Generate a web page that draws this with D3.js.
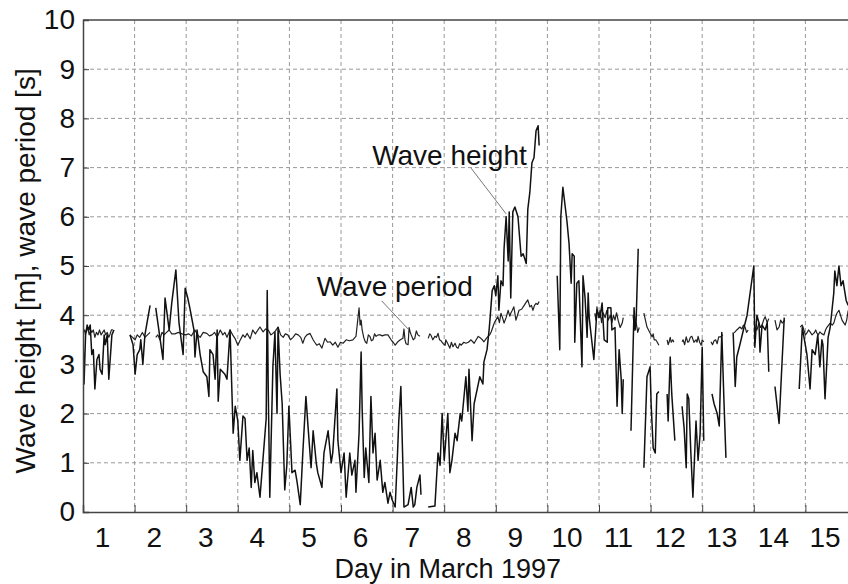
<!DOCTYPE html>
<html>
<head>
<meta charset="utf-8">
<script src="https://cdn.jsdelivr.net/npm/d3@7"></script>
<style>
  body { margin: 0; background: #fff; }
  text { font-family: "Liberation Sans", Arial, sans-serif; fill: #111; }
</style>
</head>
<body>
<svg id="chart" width="848" height="584"></svg>
<script>
// day in March 1997 (1.0 = start of 1 March), value; null = gap in record
var waveHeight = [
  [1.00,3.6],[1.02,2.6],[1.05,3.6],[1.08,3.8],[1.11,3.7],[1.14,3.8],[1.17,3.2],[1.20,3.3],[1.23,2.5],[1.27,3.1],
  [1.31,3.2],[1.33,2.9],[1.37,2.8],[1.41,3.6],[1.43,3.4],[1.47,3.6],[1.50,2.7],[1.52,3.0],[1.56,3.6],[1.60,3.7],[1.62,null],
  [1.91,3.6],[1.97,3.4],[2.01,2.8],[2.05,3.2],[2.10,3.3],[2.12,3.5],[2.16,3.0],[2.20,3.6],[2.30,4.2],[2.34,null],
  [2.41,4.15],[2.49,3.55],[2.55,3.1],[2.59,4.35],[2.67,3.7],[2.72,4.25],[2.80,4.92],[2.86,3.85],[2.94,3.2],[2.98,4.55],
  [3.03,4.35],[3.07,4.15],[3.15,3.7],[3.17,3.15],[3.21,3.7],[3.27,3.2],[3.33,2.85],[3.40,2.75],[3.44,2.35],[3.46,3.3],
  [3.52,3.2],[3.56,2.7],[3.60,3.7],[3.62,2.25],[3.66,2.9],[3.75,2.8],[3.79,2.7],[3.85,3.7],[3.91,1.6],[3.95,2.15],
  [4.00,1.85],[4.04,1.05],[4.10,1.95],[4.14,1.9],[4.18,1.05],[4.22,1.3],[4.26,0.5],[4.29,1.25],[4.33,0.6],[4.37,0.8],
  [4.43,0.3],[4.49,1.1],[4.55,1.9],[4.57,4.5],[4.59,2.5],[4.62,0.3],[4.68,2.95],[4.72,3.65],[4.76,2.0],[4.78,3.75],
  [4.82,2.8],[4.86,2.2],[4.91,0.45],[4.95,0.95],[4.99,2.15],[5.05,0.8],[5.11,0.85],[5.15,0.6],[5.21,0.15],[5.26,1.2],
  [5.32,2.35],[5.36,1.75],[5.42,0.9],[5.46,1.65],[5.52,1.0],[5.55,0.8],[5.63,0.5],[5.67,1.2],[5.75,1.65],[5.81,1.0],
  [5.84,1.2],[5.92,2.5],[5.94,1.45],[6.00,0.8],[6.06,1.2],[6.10,0.3],[6.17,1.2],[6.21,0.75],[6.27,1.05],[6.29,0.4],
  [6.35,1.6],[6.39,3.25],[6.41,2.1],[6.45,0.7],[6.48,1.3],[6.54,0.6],[6.58,2.35],[6.62,1.2],[6.66,1.6],[6.70,0.65],
  [6.76,1.05],[6.81,0.4],[6.85,0.6],[6.91,0.18],[6.95,0.4],[6.99,0.25],[7.05,0.1],[7.09,1.05],[7.12,1.85],[7.16,2.55],
  [7.22,0.1],[7.30,0.15],[7.36,0.5],[7.40,0.1],[7.43,0.15],[7.47,0.5],[7.53,0.75],[7.55,0.35],[7.60,null],
  [7.69,0.1],[7.82,0.12],[7.88,1.2],[7.92,0.95],[7.96,2.0],[8.00,1.05],[8.03,1.45],[8.07,2.0],[8.11,0.8],[8.15,1.05],
  [8.21,1.6],[8.25,1.45],[8.31,2.0],[8.34,1.85],[8.42,2.75],[8.46,2.05],[8.48,2.9],[8.54,1.45],[8.58,2.2],[8.66,2.6],
  [8.69,2.75],[8.75,2.6],[8.77,3.05],[8.83,3.3],[8.87,3.7],[8.89,3.95],[8.93,4.5],[8.97,4.6],[9.00,4.4],[9.04,4.8],
  [9.06,4.1],[9.10,4.7],[9.14,4.6],[9.16,5.35],[9.20,6.0],[9.24,5.1],[9.26,6.1],[9.29,4.35],[9.33,6.1],[9.37,6.2],
  [9.43,6.0],[9.49,5.2],[9.53,5.25],[9.59,5.05],[9.62,6.15],[9.66,6.5],[9.70,7.1],[9.74,7.2],[9.78,7.75],[9.82,7.85],
  [9.84,7.45],[9.90,null],
  [10.19,4.8],[10.24,3.3],[10.26,6.0],[10.30,6.6],[10.38,5.9],[10.42,5.45],[10.46,4.65],[10.48,5.25],[10.52,5.2],[10.53,3.45],
  [10.57,4.65],[10.61,4.7],[10.67,2.95],[10.69,4.8],[10.73,4.35],[10.77,3.55],[10.79,4.45],[10.81,3.95],[10.90,3.1],[10.96,4.1],
  [11.02,3.95],[11.06,4.25],[11.10,3.5],[11.16,3.45],[11.17,4.15],[11.23,4.15],[11.25,3.7],[11.31,3.75],[11.35,2.15],[11.39,3.3],
  [11.43,2.7],[11.45,2.0],[11.47,2.7],[11.52,null],
  [11.62,1.65],[11.68,4.15],[11.70,3.7],[11.72,3.9],[11.76,5.35],[11.80,null],
  [11.87,0.9],[11.93,2.75],[11.99,2.95],[12.01,2.2],[12.05,1.3],[12.09,1.2],[12.12,2.4],[12.16,2.45],[12.22,null],
  [12.32,2.4],[12.34,1.85],[12.38,3.15],[12.41,2.4],[12.47,1.45],[12.52,null],
  [12.61,2.15],[12.65,1.7],[12.69,0.9],[12.71,2.4],[12.74,2.3],[12.78,1.2],[12.82,0.3],[12.88,1.85],[12.92,1.05],[12.96,1.6],
  [13.00,3.35],[13.03,1.45],[13.10,null],
  [13.19,2.4],[13.23,2.2],[13.29,2.0],[13.33,1.75],[13.38,3.65],[13.42,2.3],[13.46,1.1],[13.52,null],
  [13.60,3.65],[13.64,2.55],[13.67,3.15],[13.73,3.4],[13.81,3.75],[13.87,4.0],[14.00,5.0],[14.02,3.35],[14.06,4.0],[14.10,3.85],
  [14.12,3.25],[14.16,3.8],[14.22,3.7],[14.26,3.85],[14.29,2.85],[14.35,null],
  [14.41,2.55],[14.49,1.8],[14.55,3.1],[14.59,3.95],[14.70,null],
  [14.88,2.5],[14.94,3.75],[14.99,3.45],[15.03,3.2],[15.09,2.5],[15.13,3.3],[15.19,3.2],[15.24,3.6],[15.28,2.95],[15.32,3.5],
  [15.34,3.4],[15.38,2.3],[15.44,3.55],[15.48,3.75],[15.55,4.45],[15.57,4.9],[15.61,4.6],[15.65,5.0],[15.69,4.6],[15.73,4.7],
  [15.79,4.3],[15.83,4.2]
];

var wavePeriod = [
  [1.00,3.55],[1.03,3.7],[1.06,3.65],[1.09,3.75],[1.12,3.6],[1.15,3.7],[1.17,3.65],[1.20,3.7],[1.23,3.55],[1.26,3.65],
  [1.29,3.6],[1.32,3.7],[1.35,3.6],[1.38,3.65],[1.41,3.7],[1.44,3.6],[1.47,3.65],[1.50,3.55],[1.52,3.6],[1.55,3.7],[1.58,3.7],[1.62,null],
  [1.91,3.6],[1.96,3.55],[2.01,3.5],[2.05,3.6],[2.10,3.55],[2.15,3.65],[2.20,3.55],[2.25,3.6],[2.30,3.65],[2.34,null],
  [2.41,3.55],[2.45,3.6],[2.49,3.5],[2.53,3.65],[2.57,3.6],[2.62,3.65],[2.67,3.7],[2.72,3.62],[2.78,3.62],[2.85,3.65],
  [2.92,3.62],[2.98,3.6],[3.05,3.62],[3.10,3.58],[3.17,3.7],[3.22,3.6],[3.27,3.55],[3.33,3.65],[3.40,3.63],[3.45,3.58],
  [3.50,3.6],[3.55,3.65],[3.60,3.55],[3.66,3.7],[3.71,3.6],[3.75,3.65],[3.79,3.55],[3.85,3.7],[3.90,3.6],[3.95,3.52],
  [4.00,3.39],[4.05,3.5],[4.10,3.6],[4.14,3.55],[4.18,3.63],[4.24,3.52],[4.29,3.7],[4.34,3.62],[4.39,3.7],[4.43,3.76],
  [4.49,3.66],[4.54,3.72],[4.59,3.7],[4.64,3.6],[4.68,3.63],[4.73,3.68],[4.78,3.76],[4.83,3.6],[4.88,3.55],[4.92,3.62],
  [4.97,3.6],[5.02,3.5],[5.07,3.55],[5.12,3.62],[5.17,3.6],[5.22,3.55],[5.26,3.43],[5.30,3.55],[5.34,3.6],[5.40,3.63],
  [5.46,3.5],[5.49,3.45],[5.53,3.39],[5.58,3.42],[5.63,3.33],[5.69,3.53],[5.74,3.45],[5.79,3.46],[5.84,3.39],[5.89,3.45],
  [5.94,3.35],[5.99,3.45],[6.04,3.43],[6.10,3.5],[6.16,3.48],[6.23,3.5],[6.29,3.57],[6.35,4.15],[6.37,3.8],[6.39,3.9],
  [6.41,3.7],[6.44,3.55],[6.47,3.46],[6.50,3.43],[6.53,3.6],[6.56,3.57],[6.59,3.48],[6.62,3.5],[6.65,3.62],[6.68,3.57],
  [6.72,3.6],[6.76,3.6],[6.80,3.58],[6.85,3.6],[6.91,3.6],[6.97,3.5],[7.01,3.45],[7.05,3.39],[7.10,3.46],[7.15,3.5],
  [7.20,3.53],[7.22,3.72],[7.24,3.5],[7.26,3.42],[7.30,3.4],[7.32,3.75],[7.34,3.66],[7.36,3.6],[7.40,3.5],[7.43,3.53],
  [7.46,3.68],[7.49,3.6],[7.53,3.57],[7.60,null],
  [7.69,3.53],[7.72,3.62],[7.74,3.6],[7.78,3.5],[7.82,3.57],[7.85,3.55],[7.88,3.63],[7.91,3.5],[7.94,3.48],[7.98,3.42],
  [8.02,3.39],[8.03,3.5],[8.07,3.42],[8.11,3.33],[8.14,3.45],[8.17,3.36],[8.21,3.43],[8.24,3.35],[8.27,3.33],[8.30,3.42],
  [8.33,3.39],[8.38,3.45],[8.42,3.43],[8.47,3.45],[8.52,3.5],[8.58,3.43],[8.62,3.5],[8.66,3.57],[8.71,3.53],[8.74,3.5],
  [8.77,3.46],[8.81,3.52],[8.85,3.57],[8.88,3.6],[8.91,3.66],[8.94,3.75],[8.97,3.84],[9.00,3.9],[9.04,3.97],[9.07,3.85],
  [9.10,4.04],[9.13,3.95],[9.16,3.84],[9.20,3.95],[9.24,4.1],[9.27,3.98],[9.29,4.04],[9.32,4.1],[9.35,4.17],[9.39,3.9],
  [9.42,4.0],[9.45,4.1],[9.50,4.12],[9.55,4.2],[9.58,4.25],[9.62,4.31],[9.66,4.17],[9.69,4.2],[9.72,4.1],[9.75,4.2],
  [9.78,4.24],[9.81,4.22],[9.84,4.28],[9.90,null],
  [10.92,4.04],[10.94,3.9],[10.96,4.17],[10.99,3.95],[11.02,4.1],[11.05,3.85],[11.08,4.05],[11.12,3.95],[11.15,4.1],[11.18,3.9],
  [11.22,4.0],[11.25,3.85],[11.28,4.0],[11.31,3.9],[11.34,4.05],[11.37,3.9],[11.41,3.75],[11.45,3.84],[11.47,3.95],[11.52,null],
  [11.66,4.0],[11.69,3.7],[11.72,3.85],[11.75,3.65],[11.78,3.75],[11.81,null],
  [11.87,4.04],[11.93,3.76],[11.96,3.7],[11.99,3.64],[12.01,3.6],[12.03,3.56],[12.05,3.62],[12.07,3.5],[12.10,3.5],[12.13,3.45],
  [12.16,3.39],[12.22,null],
  [12.32,3.5],[12.34,3.4],[12.36,3.46],[12.38,3.55],[12.40,3.45],[12.43,3.5],[12.45,3.45],[12.52,null],
  [12.61,3.46],[12.63,3.5],[12.66,3.4],[12.69,3.56],[12.72,3.45],[12.74,3.46],[12.77,3.55],[12.80,3.57],[12.84,3.45],[12.88,3.5],
  [12.90,3.45],[12.92,3.57],[12.95,3.45],[12.98,3.39],[13.00,3.5],[13.03,3.46],[13.10,null],
  [13.17,3.46],[13.20,3.4],[13.23,3.48],[13.26,3.5],[13.29,3.42],[13.32,3.56],[13.36,3.56],[13.40,3.6],[13.46,null],
  [13.62,3.64],[13.67,3.7],[13.73,3.76],[13.77,3.72],[13.80,3.8],[13.83,3.76],[13.86,3.65],[13.89,3.7],[13.95,null],
  [14.02,3.76],[14.06,3.7],[14.10,3.84],[14.13,3.75],[14.16,3.8],[14.19,3.9],[14.22,3.97],[14.26,3.85],[14.29,3.93],[14.35,null],
  [14.41,3.9],[14.45,3.7],[14.49,3.76],[14.52,3.9],[14.55,3.84],[14.60,3.9],[14.70,null],
  [14.90,3.76],[14.94,3.8],[14.97,3.7],[15.00,3.6],[15.03,3.64],[15.06,3.7],[15.09,3.66],[15.13,3.6],[15.17,3.64],[15.20,3.7],
  [15.22,3.64],[15.25,3.6],[15.28,3.66],[15.32,3.62],[15.36,3.6],[15.39,3.7],[15.42,3.76],[15.45,3.8],[15.48,3.84],[15.52,3.8],
  [15.55,3.84],[15.58,3.95],[15.61,4.04],[15.65,4.1],[15.68,4.0],[15.71,3.9],[15.74,3.85],[15.77,3.8],[15.80,3.9],[15.83,4.1]
];

var dayLabels = ["1","2","3","4","5","6","7","8","9","10","11","12","13","14","15"];
var dayBounds = [2,3,4,5,6,7,8,9,10,11,12,13,14,15];
var yTicks = [0,1,2,3,4,5,6,7,8,9,10];

// annotation: text anchor (day, value) and leader line (day, value) pairs
var notes = [
  { text: "Wave height", anchor: "end", at: [9.60, 7.05], from: [8.52, 6.99], to: [9.20, 6.06] },
  { text: "Wave period", anchor: "start", at: [5.53, 4.39], from: [6.79, 4.29], to: [7.30, 3.72] }
];

var svg = d3.select("#chart");
var chartW = 848, plotLeft = 83, plotTop = 20, plotBottom = 512;

var x = d3.scaleLinear().domain([1, 16]).range([plotLeft, 857]);
var y = d3.scaleLinear().domain([0, 10]).range([plotBottom, plotTop]);

svg.append("defs").append("clipPath").attr("id", "plot")
  .append("rect").attr("x", plotLeft).attr("y", plotTop)
  .attr("width", chartW - plotLeft).attr("height", plotBottom - plotTop);

// grid
var grid = svg.append("g").attr("stroke", "#999").attr("stroke-width", 1).attr("stroke-dasharray", "4,3");
grid.selectAll(".hg").data(yTicks.filter(function(v) { return v > 0 && v < 10; }))
  .enter().append("line")
  .attr("x1", plotLeft).attr("x2", chartW)
  .attr("y1", function(v) { return y(v); }).attr("y2", function(v) { return y(v); });
grid.selectAll(".vg").data(dayBounds)
  .enter().append("line")
  .attr("y1", plotTop).attr("y2", plotBottom)
  .attr("x1", function(d) { return x(d); }).attr("x2", function(d) { return x(d); });

// data lines
var line = d3.line()
  .defined(function(p) { return p[1] != null; })
  .x(function(p) { return x(p[0]); })
  .y(function(p) { return y(p[1]); });

var plot = svg.append("g").attr("clip-path", "url(#plot)");
plot.append("path").datum(wavePeriod)
  .attr("d", line).attr("fill", "none")
  .attr("stroke", "#222").attr("stroke-width", 1.2).attr("stroke-linejoin", "round");
plot.append("path").datum(waveHeight)
  .attr("d", line).attr("fill", "none")
  .attr("stroke", "#111").attr("stroke-width", 1.5).attr("stroke-linejoin", "round");

// frame
svg.append("line").attr("x1", plotLeft).attr("x2", chartW).attr("y1", plotTop).attr("y2", plotTop)
  .attr("stroke", "#444").attr("stroke-width", 1.5);

var yAxis = d3.axisLeft(y).tickValues(yTicks).tickSize(-6).tickPadding(8).tickFormat(d3.format("d"));
var gy = svg.append("g").attr("transform", "translate(" + plotLeft + ",0)").call(yAxis);
gy.select(".domain").attr("stroke", "#444").attr("stroke-width", 1.5);
gy.selectAll(".tick line").attr("stroke", "#444");
gy.selectAll(".tick text").attr("font-size", 28).attr("font-family", "Liberation Sans, Arial, sans-serif").attr("fill", "#111");

var xAxis = d3.axisBottom(x).tickValues(dayBounds).tickSize(-7).tickFormat("");
var gx = svg.append("g").attr("transform", "translate(0," + plotBottom + ")").call(xAxis);
gx.select(".domain").attr("stroke", "#444").attr("stroke-width", 1.5);
gx.selectAll(".tick line").attr("stroke", "#444");

svg.append("g").selectAll("text").data(dayLabels).enter().append("text")
  .attr("x", function(d, i) { return x(i + 1.38); })
  .attr("y", 547)
  .attr("text-anchor", "middle")
  .attr("font-size", 28)
  .text(function(d) { return d; });

svg.append("text")
  .attr("x", x(8.07)).attr("y", 578)
  .attr("text-anchor", "middle").attr("font-size", 27)
  .text("Day in March 1997");

svg.append("text")
  .attr("transform", "translate(35," + y(4.9) + ") rotate(-90)")
  .attr("text-anchor", "middle").attr("font-size", 28)
  .text("Wave height [m], wave period [s]");

// annotations
notes.forEach(function(n) {
  svg.append("line")
    .attr("x1", x(n.from[0])).attr("y1", y(n.from[1]))
    .attr("x2", x(n.to[0])).attr("y2", y(n.to[1]))
    .attr("stroke", "#777").attr("stroke-width", 1);
  svg.append("text")
    .attr("x", x(n.at[0])).attr("y", y(n.at[1]))
    .attr("text-anchor", n.anchor).attr("font-size", 28)
    .text(n.text);
});
</script>
</body>
</html>
